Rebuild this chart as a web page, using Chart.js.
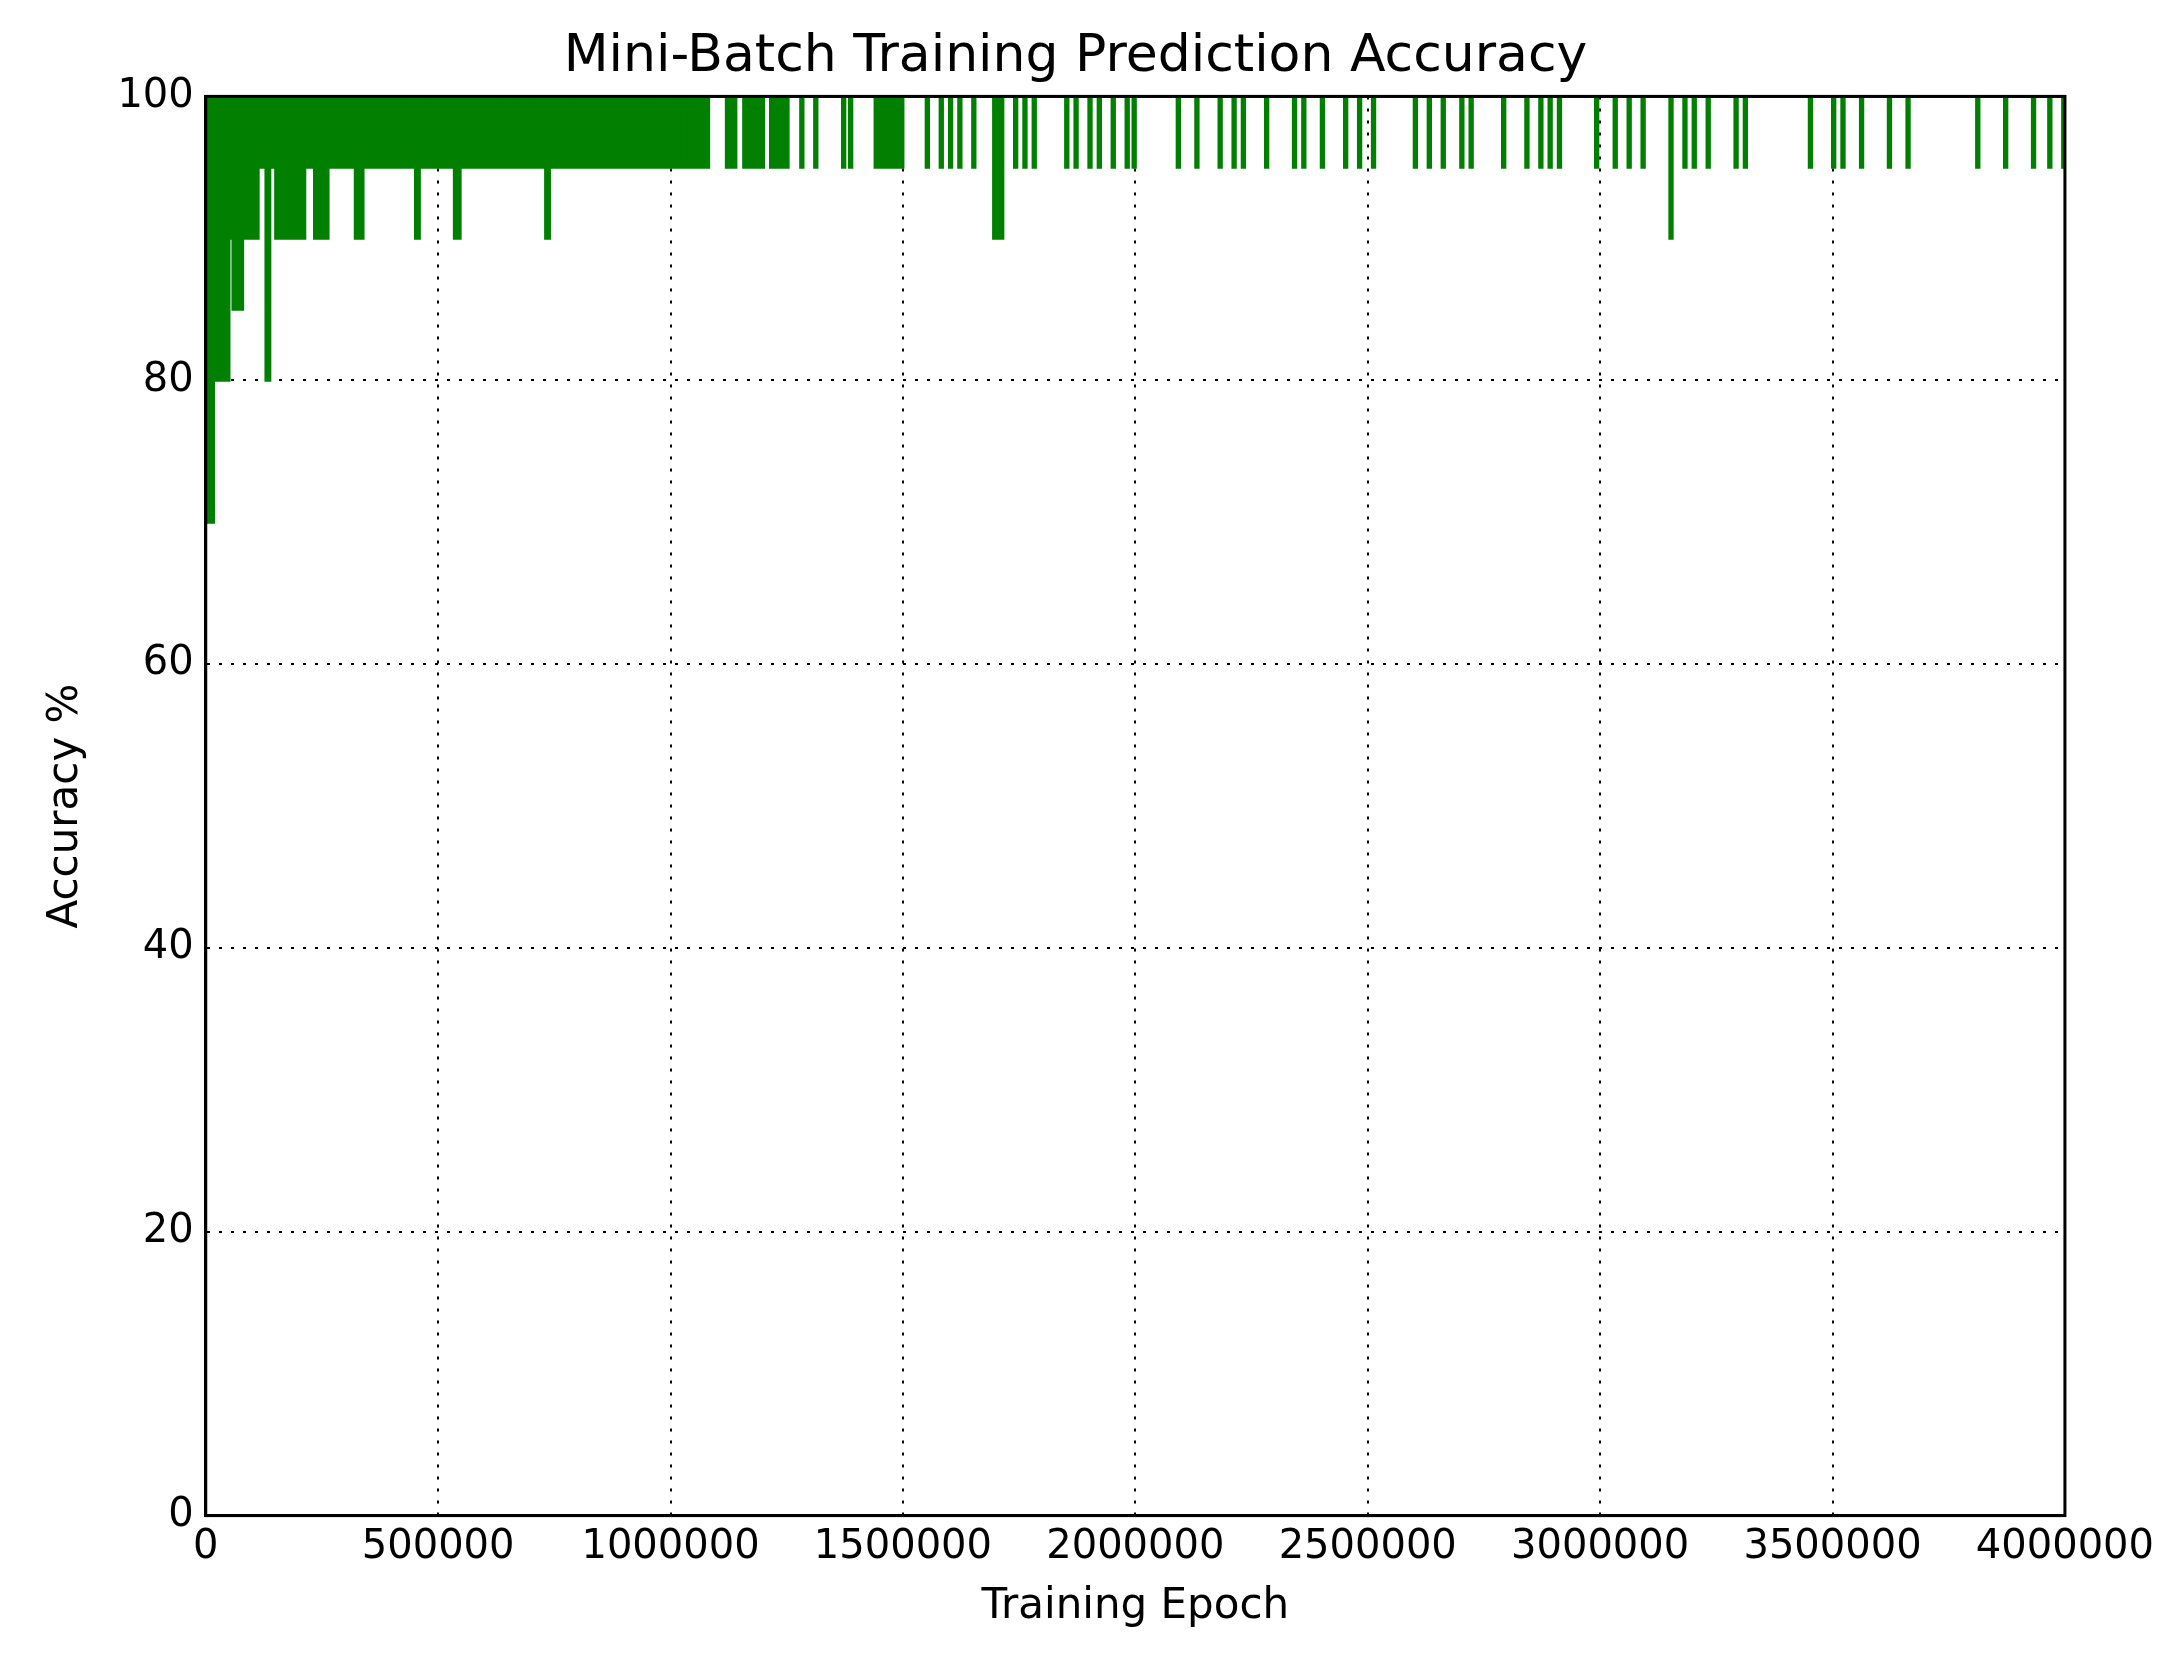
<!DOCTYPE html>
<html>
<head>
<meta charset="utf-8">
<script src="https://cdn.jsdelivr.net/npm/chart.js@4"></script>
<style>
  body { margin: 0; background: #fff; }
  canvas { display: block; }
</style>
</head>
<body>
<canvas id="myChart" width="2162" height="1674"></canvas>
<script>
// DATA
// accuracy steps: value holds from this epoch until the next one
const stepEpochs = [0, 16700, 50000, 58500, 79400, 112800, 129500, 137900, 150400, 213100,
  234000, 263200, 321700, 338400, 426200, 429000, 451200, 459600, 480500, 483500,
  534800, 547300, 630900, 634000, 672700, 675700, 701900, 705000, 731200, 739500,
  793800, 797000, 827200, 830000, 898300, 901000, 944200, 947000, 969300, 972000,
  1015200, 1018000, 1040300, 1043000, 1065400, 1068000, 1082000, 1120000, 1140600, 1157300,
  1200000, 1215000, 1253000, 1440000, 1500000, 1695000, 1715000];
const stepValues = [70, 80, 90, 85, 90, 95, 80, 95, 90, 95,
  90, 95, 90, 95, 100, 95, 90, 95, 100, 95,
  90, 95, 100, 95, 100, 95, 100, 95, 90, 95,
  100, 95, 100, 95, 100, 95, 100, 95, 100, 95,
  100, 95, 100, 95, 100, 95, 100, 95, 100, 95,
  100, 95, 100, 95, 100, 90, 100];
// isolated single dips after the dense part
const dipEpochs = [1280000, 1310000, 1370000, 1385000, 1550000, 1580000, 1600000, 1620000, 1650000,
  1740000, 1760000, 1780000, 1850000, 1870000, 1900000, 1920000, 1950000, 1980000, 1995000,
  2090000, 2130000, 2180000, 2210000, 2230000, 2280000, 2340000, 2360000, 2400000, 2450000,
  2480000, 2510000, 2600000, 2630000, 2660000, 2700000, 2720000, 2790000, 2840000, 2870000,
  2890000, 2910000, 2990000, 3030000, 3060000, 3090000, 3150000, 3180000, 3200000, 3230000,
  3290000, 3310000, 3450000, 3500000, 3520000, 3560000, 3620000, 3660000, 3810000, 3870000,
  3930000, 3965000, 3995000];
const dipValues = dipEpochs.map(e => e === 3150000 ? 90 : 95);
const xTicks = [0, 500000, 1000000, 1500000, 2000000, 2500000, 3000000, 3500000, 4000000];
const yTicks = [0, 20, 40, 60, 80, 100];

// build the trace
let points = [];
for (let i = 0; i < stepEpochs.length; i++) {
  points.push({x: stepEpochs[i], y: stepValues[i]});
}
for (let i = 0; i < dipEpochs.length; i++) {
  points.push({x: dipEpochs[i], y: dipValues[i]});
  points.push({x: Math.min(dipEpochs[i] + 5000, 4000000), y: dipEpochs[i] >= 3995000 ? 95 : 100});
}
points.sort((a, b) => a.x - b.x);

const font = "'DejaVu Sans', sans-serif";
const grid = { color: '#000', lineWidth: 2, tickLength: 0 };
const border = { display: true, color: '#000', width: 3, dash: [3, 9] };

const myChart = new Chart(document.getElementById('myChart'), {
  type: 'line',
  data: {
    datasets: [{
      data: points,
      stepped: 'before',
      borderColor: '#007f00',
      backgroundColor: '#007f00',
      borderWidth: 3,
      pointRadius: 0,
      fill: 'end'
    }]
  },
  options: {
    responsive: false,
    animation: false,
    devicePixelRatio: 1,
    layout: { padding: { top: 8, right: 48, left: 37, bottom: 38 } },
    plugins: {
      legend: { display: false },
      tooltip: { enabled: false },
      title: {
        display: true, text: 'Mini-Batch Training Prediction Accuracy',
        color: '#000', font: { family: font, size: 52, weight: 'normal' },
        padding: { top: 18, bottom: 8 }
      }
    },
    scales: {
      x: {
        type: 'linear', min: 0, max: 4000000,
        afterBuildTicks: s => { s.ticks = xTicks.map(v => ({value: v})); },
        ticks: { color: '#000', font: { family: font, size: 40 }, maxRotation: 0, padding: 8,
                 callback: v => String(v) },
        grid: grid,
        border: border,
        title: { display: true, text: 'Training Epoch', color: '#000',
                 font: { family: font, size: 42 }, padding: { top: 2 } }
      },
      y: {
        min: 0, max: 100,
        afterBuildTicks: s => { s.ticks = yTicks.map(v => ({value: v})); },
        ticks: { color: '#000', font: { family: font, size: 40 }, padding: 12 },
        grid: grid,
        border: border,
        title: { display: true, text: 'Accuracy %', color: '#000',
                 font: { family: font, size: 42 }, padding: { bottom: 14 } }
      }
    }
  },
  plugins: [{
    id: 'frame',
    afterDraw(chart) {
      const a = chart.chartArea, c = chart.ctx;
      c.save();
      c.setLineDash([]);
      c.strokeStyle = '#000';
      c.lineWidth = 3;
      c.strokeRect(a.left, a.top, a.right - a.left, a.bottom - a.top);
      c.restore();
    }
  }]
});
</script>
</body>
</html>
